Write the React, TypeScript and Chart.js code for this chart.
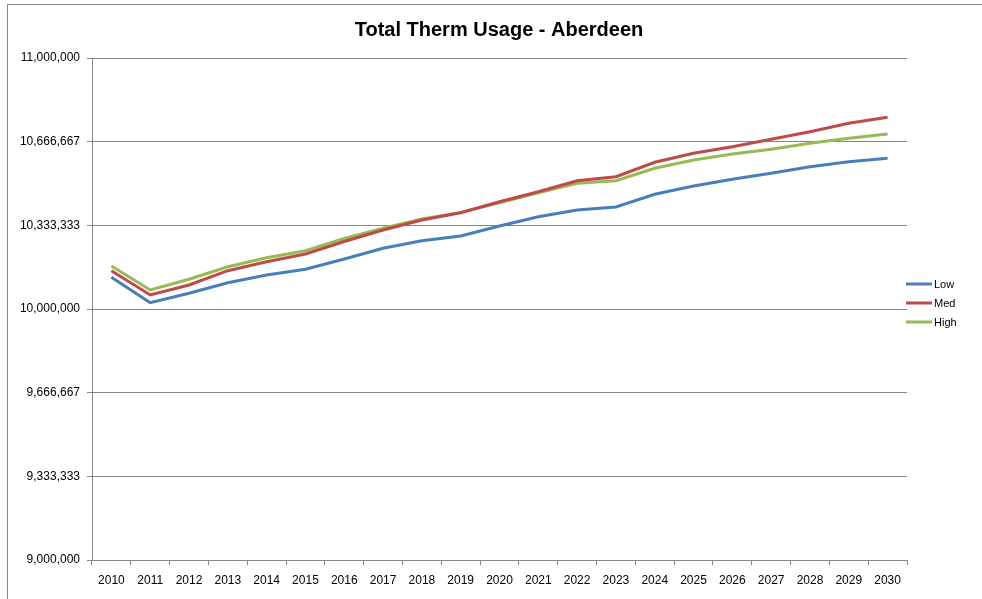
import React, { useEffect, useRef } from "react";
import { Chart, registerables } from "chart.js";

Chart.register(...registerables);

const TITLE = "Total Therm Usage - Aberdeen";
const YEARS = [
  "2010", "2011", "2012", "2013", "2014", "2015", "2016", "2017", "2018", "2019", "2020",
  "2021", "2022", "2023", "2024", "2025", "2026", "2027", "2028", "2029", "2030",
];
const LOW = [
  10126300, 10025100, 10062550, 10104780, 10135460, 10158170, 10199200, 10241830, 10272110, 10290840, 10330680,
  10367730, 10394420, 10406370, 10456970, 10490040, 10516730, 10540640, 10566930, 10586850, 10600400,
];
const MED = [
  10152590, 10055780, 10095620, 10152590, 10188450, 10219120, 10268920, 10314740, 10354580, 10383670, 10427490,
  10467330, 10511150, 10527090, 10584460, 10620320, 10646610, 10676100, 10706380, 10739840, 10763740,
];
const HIGH = [
  10171310, 10075700, 10118330, 10168530, 10204380, 10232270, 10280880, 10321510, 10358570, 10385000, 10423510,
  10463350, 10500800, 10511150, 10560560, 10593630, 10617530, 10636260, 10660160, 10680080, 10697210,
];
const SERIES_NAMES = ["Low", "Med", "High"];
const SERIES_COLORS = ["#4A7EBB", "#BE4B48", "#98B954"];
const Y_MIN = 9000000;
const Y_MAX = 11000000;
const Y_STEP = (Y_MAX - Y_MIN) / 6;

const FONT = "'Liberation Sans', Arial, sans-serif";

const titlePlugin = {
  id: "customTitle",
  afterDraw(chart: any) {
    const ctx = chart.ctx;
    ctx.save();
    ctx.font = `bold 20px ${FONT}`;
    ctx.fillStyle = "#000";
    ctx.textAlign = "center";
    ctx.textBaseline = "middle";
    ctx.fillText(TITLE, 499, 30);
    ctx.restore();
  },
};

const legendPlugin = {
  id: "customLegend",
  afterDraw(chart: any) {
    const ctx = chart.ctx;
    const area = chart.chartArea;
    const x0 = area.right - 1;
    const yStart = 284;
    const gap = 19;
    ctx.save();
    ctx.font = `11px ${FONT}`;
    ctx.textBaseline = "middle";
    ctx.textAlign = "left";
    chart.data.datasets.forEach((ds: any, i: number) => {
      const y = yStart + i * gap;
      ctx.strokeStyle = ds.borderColor;
      ctx.lineWidth = 3;
      ctx.beginPath();
      ctx.moveTo(x0, y);
      ctx.lineTo(x0 + 26, y);
      ctx.stroke();
      ctx.fillStyle = "#000";
      ctx.fillText(ds.label, x0 + 28, y + 0.5);
    });
    ctx.restore();
  },
};

export default function App() {
  const canvasRef = useRef<HTMLCanvasElement | null>(null);

  useEffect(() => {
    if (!canvasRef.current) return;
    const datasets = [LOW, MED, HIGH].map((d, i) => ({
      label: SERIES_NAMES[i],
      data: d,
      borderColor: SERIES_COLORS[i],
      backgroundColor: SERIES_COLORS[i],
      borderWidth: 3,
      pointRadius: 0,
      tension: 0,
      fill: false,
    }));
    const chart = new Chart(canvasRef.current, {
      type: "line",
      data: { labels: YEARS, datasets },
      options: {
        animation: false,
        responsive: false,
        maintainAspectRatio: false,
        layout: { padding: { left: 7, top: 58, right: 75, bottom: 9 } },
        plugins: {
          legend: { display: false },
          tooltip: { enabled: false },
          title: { display: false },
        },
        scales: {
          x: {
            offset: true,
            grid: {
              offset: true,
              drawOnChartArea: false,
              drawTicks: true,
              tickLength: 5,
              color: "#868686",
            },
            border: { color: "#868686", width: 1 },
            ticks: {
              color: "#000",
              font: { family: FONT, size: 12 },
              maxRotation: 0,
              autoSkip: false,
              padding: 8,
            },
            afterFit: (scale: any) => {
              scale.height = 30;
            },
          },
          y: {
            min: Y_MIN,
            max: Y_MAX,
            grid: {
              color: "#868686",
              drawTicks: true,
              tickLength: 5,
            },
            border: { color: "#868686", width: 1 },
            ticks: {
              stepSize: Y_STEP,
              color: "#000",
              font: { family: FONT, size: 12 },
              padding: 7,
              callback: (v: any) => Math.round(Number(v)).toLocaleString("en-US"),
            },
            afterBuildTicks: (scale: any) => {
              const t = [];
              for (let i = 0; i <= 6; i++) t.push({ value: Y_MIN + i * Y_STEP });
              scale.ticks = t;
            },
            afterFit: (scale: any) => {
              scale.width = 85;
            },
          },
        },
      },
      plugins: [titlePlugin, legendPlugin],
    });
    return () => chart.destroy();
  }, []);

  return (
    <div style={{ position: "fixed", left: 0, top: 0, width: 982, height: 599, background: "#fff", overflow: "hidden" }}>
      <div
        style={{
          position: "absolute",
          left: 7,
          top: 4,
          width: 1200,
          height: 800,
          borderTop: "1px solid #878787",
          borderLeft: "1px solid #878787",
        }}
      />
      <canvas ref={canvasRef} width={982} height={599} style={{ position: "absolute", left: 0, top: 0 }} />
    </div>
  );
}
